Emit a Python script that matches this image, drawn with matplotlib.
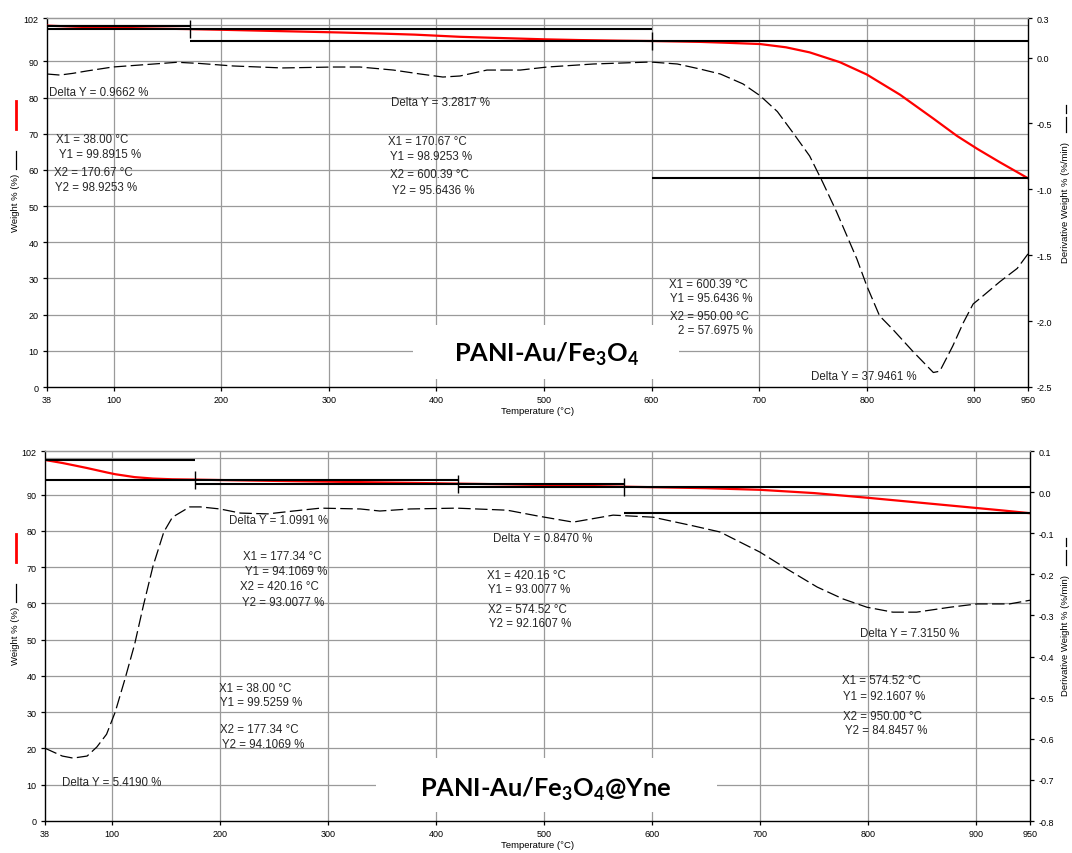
import matplotlib
matplotlib.use("Agg")
import matplotlib.pyplot as plt
from matplotlib.patches import Rectangle
from matplotlib.lines import Line2D

plt.rcParams["font.family"] = ["Liberation Sans", "DejaVu Sans"]
plt.rcParams["axes.unicode_minus"] = False
plt.rcParams["mathtext.fontset"] = "custom"
plt.rcParams["mathtext.rm"] = "Lato:bold"

# ------------------------------------------
# DATA - PANI-Au/Fe3O4 (top)
# ------------------------------------------
top_temp = [38, 64, 100, 134, 170.67, 200, 236, 273, 310, 348, 380, 401, 422,
            450, 501, 533, 571, 600.39, 645, 670, 701, 725, 747, 775, 800,
            831, 862, 884, 903, 924, 950]
top_weight = [99.89, 99.6, 99.3, 99.1, 98.93, 98.75, 98.5, 98.25, 98.0, 97.7,
              97.4, 97.1, 96.8, 96.55, 96.1, 95.9, 95.73, 95.64, 95.4, 95.15,
              94.8, 93.9, 92.5, 89.8, 86.4, 80.8, 74.2, 69.4, 65.8, 62.1, 57.70]

top_dtemp = [38, 50, 62, 75, 99, 124, 159, 180, 211, 257, 304, 329, 360, 385,
             406, 422, 447, 478, 503, 546, 599, 624, 645, 664, 685, 701, 717,
             731, 747, 759, 772, 791, 800, 812, 824, 843, 862, 868, 880, 890,
             899, 908, 924, 940, 950]
top_deriv = [-0.125, -0.133, -0.12, -0.102, -0.072, -0.057, -0.036, -0.045,
             -0.064, -0.079, -0.072, -0.072, -0.095, -0.125, -0.148, -0.14,
             -0.095, -0.095, -0.072, -0.049, -0.034, -0.049, -0.087, -0.125,
             -0.20, -0.29, -0.41, -0.565, -0.747, -0.944, -1.17, -1.53, -1.73,
             -1.96, -2.06, -2.23, -2.39, -2.38, -2.19, -2.01, -1.87, -1.81,
             -1.70, -1.60, -1.49]

top_x1 = [38.00, 170.67, 600.39]
top_x2 = [170.67, 600.39, 950.00]
top_y1 = [99.8915, 98.9253, 95.6436]
top_y2 = [98.9253, 95.6436, 57.6975]

top_texts = ["Delta Y = 0.9662 %", "X1 = 38.00 °C", " Y1 = 99.8915 %",
             "X2 = 170.67 °C", "Y2 = 98.9253 %",
             "Delta Y = 3.2817 %", "X1 = 170.67 °C", "Y1 = 98.9253 %",
             "X2 = 600.39 °C", " Y2 = 95.6436 %",
             "X1 = 600.39 °C", "Y1 = 95.6436 %", "X2 = 950.00 °C",
             "2 = 57.6975 %", "Delta Y = 37.9461 %"]

# ------------------------------------------
# DATA - PANI-Au/Fe3O4@Yne (bottom)
# ------------------------------------------
bot_temp = [38, 54, 64, 77, 86, 95, 103, 112, 121, 138, 156, 177.34, 219, 268,
            330, 376, 420.16, 466, 494, 527, 564, 574.52, 650, 700, 750, 800,
            850, 900, 925, 950]
bot_weight = [99.53, 98.7, 98.1, 97.3, 96.7, 96.1, 95.6, 95.2, 94.8, 94.4,
              94.2, 94.11, 93.9, 93.68, 93.42, 93.22, 93.01, 92.8, 92.65,
              92.43, 92.22, 92.16, 91.75, 91.3, 90.4, 89.1, 87.7, 86.3, 85.6,
              84.85]

bot_dtemp = [38, 54, 64, 77, 86, 95, 103, 112, 121, 129, 138, 148, 156, 172,
             182, 200, 219, 244, 268, 293, 330, 348, 376, 419, 466, 494, 527,
             564, 601, 638, 663, 700, 725, 753, 777, 799, 823, 845, 876, 901,
             931, 950]
bot_deriv = [-0.623, -0.642, -0.647, -0.642, -0.620, -0.589, -0.535, -0.455,
             -0.37, -0.277, -0.18, -0.097, -0.061, -0.036, -0.036, -0.041,
             -0.051, -0.053, -0.046, -0.039, -0.041, -0.046, -0.041, -0.039,
             -0.044, -0.058, -0.073, -0.056, -0.061, -0.082, -0.097, -0.146,
             -0.187, -0.231, -0.26, -0.28, -0.292, -0.292, -0.28, -0.272,
             -0.272, -0.263]

bot_x1 = [38.00, 177.34, 420.16, 574.52]
bot_x2 = [177.34, 420.16, 574.52, 950.00]
bot_y1 = [99.5259, 94.1069, 93.0077, 92.1607]
bot_y2 = [94.1069, 93.0077, 92.1607, 84.8457]

bot_texts = ["Delta Y = 5.4190 %", "X1 = 38.00 °C", "Y1 = 99.5259 %",
             "X2 = 177.34 °C", " Y2 = 94.1069 %",
             "Delta Y = 1.0991 %", "X1 = 177.34 °C", " Y1 = 94.1069 %",
             "X2 = 420.16 °C", "Y2 = 93.0077 %",
             "Delta Y = 0.8470 %", "X1 = 420.16 °C", "Y1 = 93.0077 %",
             "X2 = 574.52 °C", " Y2 = 92.1607 %",
             "Delta Y = 7.3150 %", "X1 = 574.52 °C", " Y1 = 92.1607 %",
             "X2 = 950.00 °C", " Y2 = 84.8457 %"]

temp_ticks = [38, 100, 200, 300, 400, 500, 600, 700, 800, 900, 950]
weight_ticks = [0, 10, 20, 30, 40, 50, 60, 70, 80, 90, 102]
top_deriv_ticks = [0.3, 0.0, -0.5, -1.0, -1.5, -2.0, -2.5]
bot_deriv_ticks = [0.1, 0.0, -0.1, -0.2, -0.3, -0.4, -0.5, -0.6, -0.7, -0.8]

W, H = 1072, 854
fig = plt.figure(figsize=(W / 100, H / 100), dpi=100)


def fx(px):
    return px / W


def fy(py):
    return 1 - py / H


# text positions in pixels (left edge, vertical centre)
top_pos = [(49, 93), (56, 140), (56, 155), (54, 173), (55, 188),
           (391, 103), (388, 142), (390, 157), (390, 175), (389, 191),
           (669, 285), (670, 299), (670, 317), (678, 331), (811, 377)]
bot_pos = [(62, 783), (219, 689), (220, 703), (220, 730), (219, 745),
           (229, 521), (243, 557), (242, 572), (240, 587), (242, 603),
           (493, 539), (487, 576), (488, 590), (488, 610), (486, 624),
           (860, 634), (842, 681), (840, 697), (843, 717), (842, 731)]


def panel(box, temp, weight, dtemp, deriv, x1, x2, y1, y2,
          dticks, dlim, texts, pos, title, title_xy, label_box):
    left, top, right, bottom = box
    ax = fig.add_axes([fx(left), fy(bottom), (right - left) / W, (bottom - top) / H])
    axr = ax.twinx()

    ax.set_xlim(38, 950)
    ax.set_ylim(0, 102)
    axr.set_ylim(*dlim)

    for g in range(10, 101, 10):
        ax.axhline(g, color="#9a9a9a", lw=0.9, zorder=0)
    for g in range(100, 901, 100):
        ax.axvline(g, color="#9a9a9a", lw=0.9, zorder=0)

    # white box behind the sample name
    ax.add_patch(Rectangle((label_box[0], label_box[2]),
                           label_box[1] - label_box[0],
                           label_box[3] - label_box[2],
                           facecolor="white", edgecolor="none", zorder=1))

    ax.plot(temp, weight, color="red", lw=1.6, zorder=3)
    axr.plot(dtemp, deriv, color="black", lw=0.9,
             linestyle=(0, (10, 3.5)), zorder=2)

    ax.hlines(y1, x1, x2, color="black", lw=1.5, zorder=4)
    ax.hlines(y2, x1, x2, color="black", lw=1.5, zorder=4)
    for i in range(1, len(x1)):
        ax.vlines(x1[i], y1[i] - 2.5, y1[i] + 2.5, color="black", lw=1.0, zorder=4)

    ax.set_xticks(temp_ticks)
    ax.set_xticklabels([str(t) for t in temp_ticks])
    ax.set_yticks(weight_ticks)
    ax.set_yticklabels([str(t) for t in weight_ticks])
    axr.set_yticks(dticks)
    axr.set_yticklabels(["%.1f" % t for t in dticks])

    for a in (ax, axr):
        a.tick_params(direction="out", length=3, width=0.9, labelsize=6.5,
                      pad=3, colors="black")
        a.spines["top"].set_color("#9a9a9a")
        a.spines["top"].set_linewidth(0.9)
    axr.spines["left"].set_visible(False)
    axr.spines["bottom"].set_visible(False)
    ax.spines["right"].set_visible(False)
    axr.spines["right"].set_linewidth(1.0)
    ax.spines["left"].set_linewidth(1.0)
    ax.spines["bottom"].set_linewidth(1.0)

    ax.set_xlabel("Temperature (°C)", fontsize=6.8, labelpad=1)

    for s, (px, py) in zip(texts, pos):
        fig.text(fx(px), fy(py), s, fontsize=8.3, color="#262626",
                 ha="left", va="center")

    fig.text(fx(title_xy[0]), fy(title_xy[1]), title, fontsize=18.3,
             fontweight="bold", family="Lato", ha="center", va="center")

    # left axis title with line samples
    fig.text(fx(16), fy(top + 184), "Weight % (%)", fontsize=6.8,
             rotation=90, ha="center", va="center")
    fig.add_artist(Line2D([fx(16), fx(16)], [fy(top + 133), fy(top + 151)],
                          color="black", lw=0.9))
    fig.add_artist(Line2D([fx(16), fx(16)], [fy(top + 83), fy(top + 111)],
                          color="red", lw=2.0))

    # right axis title with dashed sample
    fig.text(fx(1066), fy(top + 184), "Derivative Weight % (%/min)",
             fontsize=6.8, rotation=90, ha="center", va="center")
    fig.add_artist(Line2D([fx(1066), fx(1066)], [fy(top + 99), fy(top + 114)],
                          color="black", lw=0.9))
    fig.add_artist(Line2D([fx(1066), fx(1066)], [fy(top + 87), fy(top + 95)],
                          color="black", lw=0.9))
    return ax


panel((47, 19, 1028, 388), top_temp, top_weight, top_dtemp, top_deriv,
      top_x1, top_x2, top_y1, top_y2, top_deriv_ticks, (-2.5, 0.3),
      top_texts, top_pos, r"PANI-Au/Fe$_\mathregular{3}$O$_\mathregular{4}$",
      (547, 354), (378, 625.5, 2.2, 17.1))

panel((45, 452, 1030, 822), bot_temp, bot_weight, bot_dtemp, bot_deriv,
      bot_x1, bot_x2, bot_y1, bot_y2, bot_deriv_ticks, (-0.8, 0.1),
      bot_texts, bot_pos,
      r"PANI-Au/Fe$_\mathregular{3}$O$_\mathregular{4}$@Yne",
      (546, 789), (344.5, 660, 2.5, 17.4))

fig.savefig("out.png", dpi=100)
